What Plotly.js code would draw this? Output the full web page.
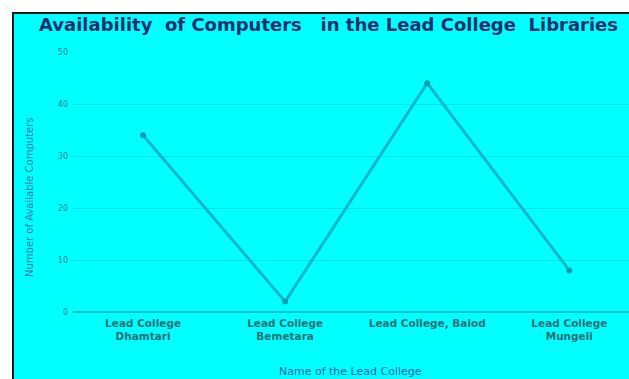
<!DOCTYPE html>
<html><head><meta charset="utf-8">
<script src="https://cdn.plot.ly/plotly-3.0.1.min.js"></script>
<style>html,body{margin:0;padding:0;background:#fff;}#chart{width:629px;height:379px;}</style>
</head><body><div id="chart"></div>
<script>
const colleges = ["Lead College<br>Dhamtari", "Lead College<br>Bemetara", "Lead College, Balod", "Lead College<br>Mungeli"];
const computers = [34, 2, 44, 8];
const yTicks = [0, 10, 20, 30, 40, 50];
const chartTitle = "Availability  of Computers   in the Lead College  Libraries";
const xTitle = "Name of the Lead College";
const yTitle = "Number of Available Computers";

const W = 629, H = 379, ml = 72, mr = 0, mt = 52, mb = 67;
const pw = W - ml - mr, ph = H - mt - mb;
const px = x => (x - ml) / pw;
const py = y => (H - mb - y) / ph;

const trace = {
  x: colleges, y: computers, type: 'scatter', mode: 'lines+markers',
  line: {color: '#14b6cc', width: 3},
  marker: {color: '#0a9db0', size: 6},
  hoverinfo: 'skip'
};
const layout = {
  width: W, height: H,
  margin: {l: ml, r: mr, t: mt, b: mb, pad: 0},
  paper_bgcolor: '#ffffff', plot_bgcolor: 'rgba(0,0,0,0)',
  showlegend: false,
  xaxis: {range: [-0.5, 3.42], showgrid: false, zeroline: false, showline: false,
    tickfont: {family: 'DejaVu Sans, Arial', size: 10.5, color: '#2a6f78', weight: 'bold'}, ticks: '', ticklabelstandoff: 3, automargin: false},
  yaxis: {range: [0, 50], tickvals: yTicks, showgrid: true, gridcolor: '#00e0ec', gridwidth: 1,
    zeroline: true, zerolinecolor: '#00c0cc', zerolinewidth: 2, showline: false, ticks: '',
    tickfont: {family: 'DejaVu Sans, Arial', size: 8, color: '#2a8088'}, ticklabelstandoff: 3, automargin: false},
  shapes: [{type: 'rect', xref: 'paper', yref: 'paper', layer: 'below',
    x0: px(13), x1: px(640), y0: py(13), y1: py(390),
    fillcolor: '#00ffff', line: {color: '#1a1a1a', width: 2}}],
  annotations: [
    {text: '<b>' + chartTitle + '</b>', xref: 'paper', yref: 'paper', x: px(37), y: py(25),
     xanchor: 'left', yanchor: 'middle', showarrow: false,
     font: {family: 'DejaVu Sans, Arial', size: 18, color: '#1c2f6a'}},
    {text: xTitle, xref: 'paper', yref: 'paper', x: px(350), y: py(371),
     xanchor: 'center', yanchor: 'middle', showarrow: false,
     font: {family: 'DejaVu Sans, Arial', size: 11, color: '#2f62b0'}},
    {text: yTitle, xref: 'paper', yref: 'paper', x: px(29), y: py(197), textangle: -90,
     xanchor: 'center', yanchor: 'middle', showarrow: false,
     font: {family: 'DejaVu Sans, Arial', size: 10, color: '#2a7ab0'}}
  ]
};
Plotly.newPlot('chart', [trace], layout, {staticPlot: true, displayModeBar: false});
</script></body></html>
